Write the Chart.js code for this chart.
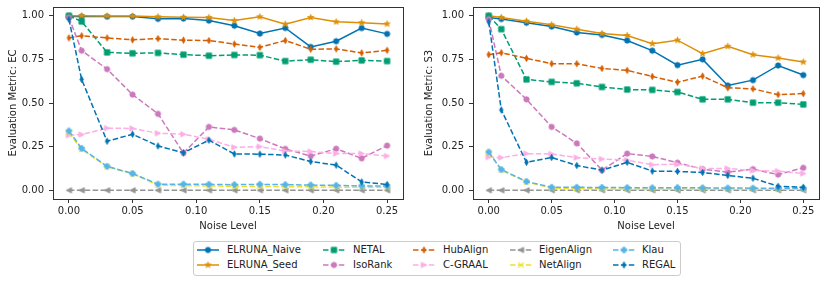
<!DOCTYPE html>
<html>
<head>
<meta charset="utf-8">
<script src="https://cdn.jsdelivr.net/npm/chart.js@4"></script>
<style>
  body { margin: 0; background: #fff; width: 830px; height: 284px; position: relative; overflow: hidden; font-family: "DejaVu Sans", sans-serif; }
  canvas.plot { position: absolute; top: 0; }
  #legend { position: absolute; left: 193px; top: 241px; width: 486px; height: 33px; border: 1px solid #cccccc; border-radius: 3px; }
  #legend .sample { position: absolute; }
  #legend span { position: absolute; font-size: 10px; line-height: 12px; color: #222; white-space: nowrap; }
</style>
</head>
<body>
<canvas id="ec" class="plot" width="415" height="236" style="left:0"></canvas>
<canvas id="s3" class="plot" width="415" height="236" style="left:415px"></canvas>
<div id="legend"></div>
<script>
// niveis de ruido (eixo x)
const noise = [0, 0.01, 0.03, 0.05, 0.07, 0.09, 0.11, 0.13, 0.15, 0.17, 0.19, 0.21, 0.23, 0.25];
const xTicks = [0, 0.05, 0.10, 0.15, 0.20, 0.25];
const yTicks = [0, 0.25, 0.50, 0.75, 1.00];

const methods = ['ELRUNA_Naive', 'ELRUNA_Seed', 'NETAL', 'IsoRank', 'HubAlign', 'C-GRAAL', 'EigenAlign', 'NetAlign', 'Klau', 'REGAL'];

// EC
const ecNaive    = [0.995, 0.995, 0.995, 0.995, 0.982, 0.984, 0.972, 0.943, 0.898, 0.930, 0.821, 0.854, 0.929, 0.896];
const ecSeed     = [1.000, 1.000, 0.999, 0.998, 0.994, 0.991, 0.990, 0.972, 0.994, 0.952, 0.990, 0.965, 0.960, 0.953];
const ecNetal    = [1.000, 0.967, 0.790, 0.785, 0.787, 0.777, 0.771, 0.775, 0.774, 0.740, 0.748, 0.737, 0.744, 0.740];
const ecIsoRank  = [0.990, 0.800, 0.694, 0.548, 0.438, 0.213, 0.363, 0.346, 0.296, 0.237, 0.196, 0.238, 0.183, 0.256];
const ecHubAlign = [0.873, 0.885, 0.873, 0.862, 0.869, 0.860, 0.858, 0.838, 0.819, 0.858, 0.808, 0.810, 0.787, 0.802];
const ecCgraal   = [0.315, 0.319, 0.356, 0.354, 0.327, 0.321, 0.292, 0.246, 0.250, 0.225, 0.222, 0.210, 0.210, 0.196];
const ecEigen    = [0, 0, 0, 0, 0, 0, 0, 0, 0, 0, 0, 0, 0, 0];
const ecNetAlign = [0.330, 0.235, 0.135, 0.095, 0.030, 0.026, 0.025, 0.022, 0.022, 0.020, 0.020, 0.018, 0.018, 0.018];
const ecKlau     = [0.340, 0.240, 0.137, 0.096, 0.035, 0.035, 0.034, 0.032, 0.034, 0.032, 0.030, 0.028, 0.025, 0.025];
const ecRegal    = [0.980, 0.635, 0.281, 0.321, 0.254, 0.215, 0.287, 0.208, 0.207, 0.202, 0.165, 0.144, 0.048, 0.033];

// S3
const s3Naive    = [0.990, 0.981, 0.960, 0.938, 0.904, 0.890, 0.858, 0.800, 0.717, 0.750, 0.600, 0.631, 0.715, 0.660];
const s3Seed     = [1.000, 0.990, 0.969, 0.948, 0.923, 0.898, 0.887, 0.840, 0.860, 0.783, 0.825, 0.777, 0.758, 0.735];
const s3Netal    = [1.000, 0.923, 0.635, 0.621, 0.613, 0.592, 0.577, 0.575, 0.563, 0.521, 0.521, 0.502, 0.502, 0.492];
const s3IsoRank  = [0.980, 0.656, 0.521, 0.363, 0.269, 0.115, 0.210, 0.194, 0.158, 0.121, 0.104, 0.121, 0.090, 0.129];
const s3HubAlign = [0.777, 0.788, 0.756, 0.725, 0.725, 0.698, 0.687, 0.652, 0.619, 0.654, 0.587, 0.581, 0.548, 0.554];
const s3Cgraal   = [0.190, 0.187, 0.210, 0.208, 0.187, 0.179, 0.173, 0.146, 0.150, 0.125, 0.125, 0.113, 0.110, 0.096];
const s3Eigen    = [0, 0, 0, 0, 0, 0, 0, 0, 0, 0, 0, 0, 0, 0];
const s3NetAlign = [0.215, 0.115, 0.048, 0.012, 0.010, 0.008, 0.008, 0.008, 0.008, 0.007, 0.007, 0.007, 0.006, 0.006];
const s3Klau     = [0.219, 0.119, 0.050, 0.017, 0.017, 0.016, 0.015, 0.014, 0.015, 0.014, 0.013, 0.012, 0.011, 0.011];
const s3Regal    = [0.965, 0.460, 0.160, 0.188, 0.142, 0.115, 0.160, 0.110, 0.108, 0.102, 0.085, 0.069, 0.023, 0.017];

// estilo de cada metodo
const colors  = ['#0173B2', '#DE8F05', '#029E73', '#CC78BC', '#D55E00', '#FBAFE4', '#949494', '#ECE133', '#56B4E9', '#0173B2'];
const markers = ['o', '*', 's', 'o', 'd', '>', '<', 'x', 'P', 'd'];
const dashed  = [false, false, true, true, true, true, true, true, true, true];

const DASH = [5.5, 2.4];
const FONT = { family: '"DejaVu Sans", sans-serif', size: 10 };
const INK = '#222';
const SPINE = '#333';

// marcador estilo matplotlib desenhado num canvas pequeno
function makeMarker(shape, color) {
  const s = 11;
  const c = document.createElement('canvas');
  c.width = s; c.height = s;
  const g = c.getContext('2d');
  g.translate(s / 2, s / 2);
  g.fillStyle = color; g.strokeStyle = color; g.lineWidth = 0.8; g.lineJoin = 'miter';
  const r = 2.7;
  g.beginPath();
  if (shape === 'o') {
    g.arc(0, 0, r, 0, Math.PI * 2);
  } else if (shape === 's') {
    g.rect(-r, -r, 2 * r, 2 * r);
  } else if (shape === 'd') {
    g.moveTo(0, -r - 0.5); g.lineTo(r * 0.65, 0); g.lineTo(0, r + 0.5); g.lineTo(-r * 0.65, 0); g.closePath();
  } else if (shape === '>') {
    g.moveTo(r, 0); g.lineTo(-r, -r); g.lineTo(-r, r); g.closePath();
  } else if (shape === '<') {
    g.moveTo(-r, 0); g.lineTo(r, -r); g.lineTo(r, r); g.closePath();
  } else if (shape === '*') {
    for (let i = 0; i < 10; i++) {
      const rad = i % 2 === 0 ? r + 0.5 : (r + 0.5) * 0.4;
      const a = -Math.PI / 2 + i * Math.PI / 5;
      const px = rad * Math.cos(a), py = rad * Math.sin(a);
      if (i === 0) g.moveTo(px, py); else g.lineTo(px, py);
    }
    g.closePath();
  } else if (shape === 'P') {
    const a = r / 3 + 0.3;
    g.moveTo(-a, -r); g.lineTo(a, -r); g.lineTo(a, -a); g.lineTo(r, -a); g.lineTo(r, a); g.lineTo(a, a);
    g.lineTo(a, r); g.lineTo(-a, r); g.lineTo(-a, a); g.lineTo(-r, a); g.lineTo(-r, -a); g.lineTo(-a, -a); g.closePath();
  } else if (shape === 'x') {
    g.lineWidth = 1.2;
    g.moveTo(-r, -r); g.lineTo(r, r); g.moveTo(-r, r); g.lineTo(r, -r);
    g.stroke();
    return c;
  }
  g.fill();
  g.stroke();
  return c;
}

const markerImgs = markers.map((m, i) => makeMarker(m, colors[i]));

// caixa completa em volta da area do grafico
const boxPlugin = {
  id: 'box',
  afterDatasetsDraw(chart) {
    const a = chart.chartArea;
    const ctx = chart.ctx;
    ctx.save();
    ctx.strokeStyle = SPINE;
    ctx.lineWidth = 1;
    ctx.strokeRect(Math.round(a.left) + 0.5, Math.round(a.top) + 0.5, Math.round(a.right - a.left), Math.round(a.bottom - a.top));
    ctx.restore();
  }
};

function makeChart(id, yLabel, seriesList, area) {
  const datasets = seriesList.map((vals, i) => ({
    label: methods[i],
    data: noise.map((x, k) => ({ x: x, y: vals[k] })),
    borderColor: colors[i],
    backgroundColor: colors[i],
    borderWidth: 1.5,
    borderDash: dashed[i] ? DASH : [],
    pointStyle: markerImgs[i],
    pointRadius: 3,
    tension: 0,
    order: methods.length - i
  }));

  return new Chart(document.getElementById(id), {
    type: 'line',
    data: { datasets: datasets },
    options: {
      responsive: false,
      animation: false,
      devicePixelRatio: 1,
      layout: { padding: { left: 0, top: area.top, right: area.right, bottom: 0 } },
      plugins: { legend: { display: false }, tooltip: { enabled: false } },
      scales: {
        x: {
          type: 'linear',
          min: -0.0125,
          max: 0.2625,
          afterBuildTicks: (s) => { s.ticks = xTicks.map(v => ({ value: v })); },
          afterFit: (s) => { s.height = area.xHeight; s.paddingLeft = 0; s.paddingRight = 0; },
          ticks: { font: FONT, color: INK, padding: 2, maxRotation: 0, callback: (v) => v.toFixed(2) },
          grid: { drawOnChartArea: false, drawTicks: true, tickLength: 4, color: SPINE },
          border: { display: true, color: SPINE, width: 1 },
          title: { display: true, text: 'Noise Level', font: FONT, color: INK, padding: { top: 0, bottom: 4 } }
        },
        y: {
          type: 'linear',
          min: -0.05,
          max: 1.05,
          afterBuildTicks: (s) => { s.ticks = yTicks.map(v => ({ value: v })); },
          afterFit: (s) => { s.width = area.yWidth; s.paddingTop = 0; s.paddingBottom = 0; },
          ticks: { font: FONT, color: INK, padding: 5, callback: (v) => v.toFixed(2) },
          grid: { drawOnChartArea: false, drawTicks: true, tickLength: 4, color: SPINE },
          border: { display: true, color: SPINE, width: 1 },
          title: { display: true, text: yLabel, font: FONT, color: INK, padding: { top: area.titlePad, bottom: 0 } }
        }
      }
    },
    plugins: [boxPlugin]
  });
}

makeChart('ec', 'Evaluation Metric: EC',
  [ecNaive, ecSeed, ecNetal, ecIsoRank, ecHubAlign, ecCgraal, ecEigen, ecNetAlign, ecKlau, ecRegal],
  { top: 7, right: 12, yWidth: 53, xHeight: 37, titlePad: 7 });

makeChart('s3', 'Evaluation Metric: S3',
  [s3Naive, s3Seed, s3Netal, s3IsoRank, s3HubAlign, s3Cgraal, s3Eigen, s3NetAlign, s3Klau, s3Regal],
  { top: 7, right: 11, yWidth: 58, xHeight: 37, titlePad: 8 });

// legenda (5 colunas, 2 linhas, ordem por coluna)
function buildLegend() {
  const box = document.getElementById('legend');
  const lineX = [3, 129, 219, 316, 419];
  const textX = [33, 159, 249, 345, 448];
  const rowY = [8, 23];
  methods.forEach((name, i) => {
    const col = Math.floor(i / 2), row = i % 2;
    const c = document.createElement('canvas');
    c.width = 24; c.height = 12;
    c.className = 'sample';
    c.style.left = lineX[col] + 'px';
    c.style.top = (rowY[row] - 6) + 'px';
    const g = c.getContext('2d');
    g.strokeStyle = colors[i];
    g.lineWidth = 1.5;
    g.setLineDash(dashed[i] ? DASH : []);
    g.beginPath(); g.moveTo(0, 6); g.lineTo(22, 6); g.stroke();
    g.drawImage(markerImgs[i], 11 - markerImgs[i].width / 2, 6 - markerImgs[i].height / 2);
    box.appendChild(c);
    const t = document.createElement('span');
    t.textContent = name;
    t.style.left = textX[col] + 'px';
    t.style.top = (rowY[row] - 6) + 'px';
    box.appendChild(t);
  });
}

buildLegend();
</script>
</body>
</html>
